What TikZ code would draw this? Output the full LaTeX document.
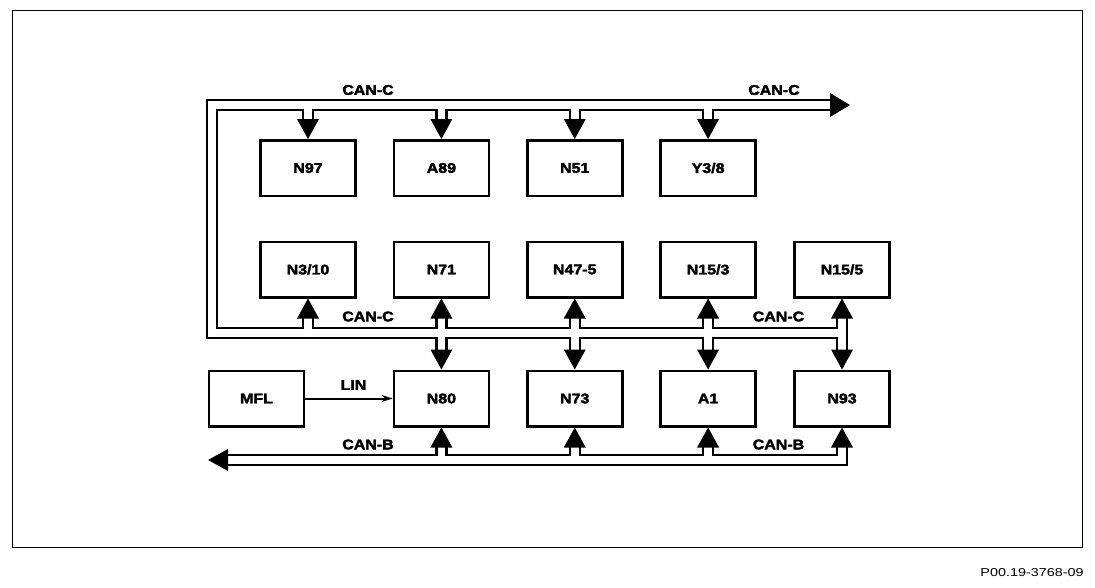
\documentclass[tikz,border=0pt]{standalone}
\usepackage{fontspec}
\setmainfont{Liberation Sans}
\newfontfamily\boxfont[FakeStretch=1.14,FakeBold=2.5]{Liberation Sans Bold}
\newfontfamily\notefont[FakeStretch=1.25]{Liberation Sans}
\usetikzlibrary{arrows.meta,calc}
\tikzset{
  busout/.style={line width=12.5pt, black, line join=miter, line cap=butt},
  busin/.style={line width=7.5pt, white, line join=miter, line cap=butt},
  unit/.style={draw, line width=2.5pt, minimum width=95pt, minimum height=55.5pt,
    inner sep=0pt, font=\boxfont\fontsize{14}{14}\selectfont},
  buslabel/.style={inner sep=0pt, font=\boxfont\fontsize{14}{14}\selectfont},
  linarrow/.style={line width=2pt, -{Stealth[length=11pt,width=7pt]}},
}
\newcommand\drawbuses[1]{%
  \draw[#1] (topend) -- (topbus -| leftcol) -- (botbus -| leftcol) -- (botbus -| n155.south);
  \foreach \b in {n97,a89,n51,y38} {\draw[#1] (\b.north |- topbus) -- ([yshift=19pt]\b.north);}
  \foreach \b in {n310,n71,n475,n153} {\draw[#1] (\b.south |- botbus) -- ([yshift=-19pt]\b.south);}
  \foreach \b in {n80,n73,a1} {\draw[#1] (\b.north |- botbus) -- ([yshift=19pt]\b.north);}
  \draw[#1] ([yshift=-19pt]n155.south) -- ([yshift=19pt]n93.north);
  \draw[#1] (canbend) -- (canb -| n93.south) -- ([yshift=-19pt]n93.south);
  \foreach \b in {n80,n73,a1} {\draw[#1] (\b.south |- canb) -- ([yshift=-19pt]\b.south);}
}
\newcommand\dnhead[1]{\fill (#1) -- ([xshift=-11pt,yshift=20pt]#1) -- ([xshift=11pt,yshift=20pt]#1) -- cycle;}
\newcommand\uphead[1]{\fill (#1) -- ([xshift=-11pt,yshift=-20pt]#1) -- ([xshift=11pt,yshift=-20pt]#1) -- cycle;}
\begin{document}
\begin{tikzpicture}[x=1pt,y=-1pt]
\useasboundingbox (0,0) rectangle (1095,587);
\fill[white] (0,0) rectangle (1095,587);
\draw[line width=1pt] (12,10) rectangle (1082,547);
% boxes
\node[unit] (n97)  at (308,168)    {N97};
\node[unit] (a89)  at (441.4,168)  {A89};
\node[unit] (n51)  at (574.75,168) {N51};
\node[unit] (y38)  at (708.1,168)  {Y3/8};
\node[unit] (n310) at (308,269.5)    {N3/10};
\node[unit] (n71)  at (441.4,269.5)  {N71};
\node[unit] (n475) at (574.75,269.5) {N47-5};
\node[unit] (n153) at (708.1,269.5)  {N15/3};
\node[unit] (n155) at (842,269.5)  {N15/5};
\node[unit] (mfl)  at (256.5,398.5)  {MFL};
\node[unit] (n80)  at (441.4,398.5)  {N80};
\node[unit] (n73)  at (574.75,398.5) {N73};
\node[unit] (a1)   at (708.1,398.5)  {A1};
\node[unit] (n93)  at (842,398.5)  {N93};
% bus coordinates
\coordinate (topend) at (830,105);
\coordinate (leftcol) at (212,0);
\coordinate (topbus) at (0,105);
\coordinate (botbus) at (0,333);
\coordinate (canb) at (0,460);
\coordinate (canbend) at (228,460);
\drawbuses{busout}
\drawbuses{busin}
% arrow heads
\foreach \b in {n97,a89,n51,y38,n80,n73,a1,n93} {\dnhead{\b.north}}
\foreach \b in {n310,n71,n475,n153,n155,n80,n73,a1,n93} {\uphead{\b.south}}
\fill ([xshift=20pt]topend) -- ([yshift=12pt]topend) -- ([yshift=-12pt]topend) -- cycle;
\fill ([xshift=-20pt]canbend) -- ([yshift=11pt]canbend) -- ([yshift=-11pt]canbend) -- cycle;
% LIN
\draw[linarrow] (mfl.east) -- (n80.west);
% labels
\node[buslabel] (lc1) at (368,90) {CAN-C};
\node[buslabel] (lc2) at (774,90) {CAN-C};
\node[buslabel] (lc3) at (368,316.5) {CAN-C};
\node[buslabel] (lc4) at (778.5,316.5) {CAN-C};
\node[buslabel] (lb1) at (368,444.5) {CAN-B};
\node[buslabel] (lb2) at (778.5,444.5) {CAN-B};
\node[buslabel] (llin) at (353.5,385) {LIN};
\node[inner sep=0pt, font=\notefont\fontsize{11.5}{11.5}\selectfont] (code) at (1032,572.5) {P00.19-3768-09};
\end{tikzpicture}
\end{document}
